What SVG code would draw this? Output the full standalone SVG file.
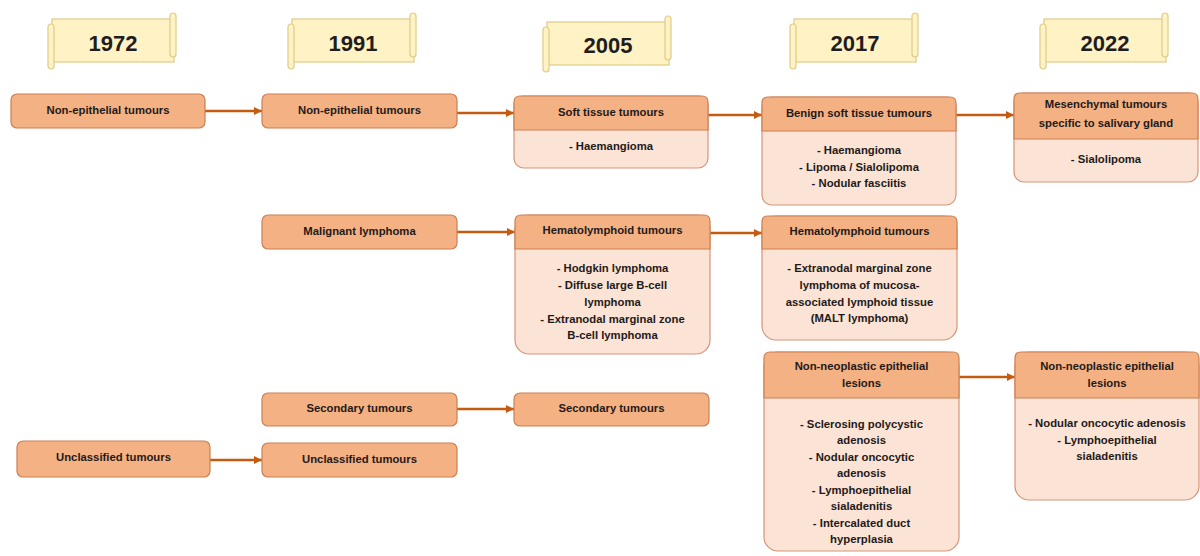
<svg xmlns="http://www.w3.org/2000/svg" width="1200" height="556" viewBox="0 0 1200 556">
<style>
.hd{fill:#F4B183;stroke:#CC7F52;stroke-width:1.2}
.bd{fill:#FBE4D5;stroke:#D4957A;stroke-width:1.2}
.t{font-family:"Liberation Sans",Arial,sans-serif;font-weight:bold;font-size:11.3px;fill:#1f1a1a;text-anchor:middle}
.yr{font-family:"Liberation Sans",Arial,sans-serif;font-weight:bold;font-size:22px;fill:#1e1e1e;text-anchor:middle}
.sc{fill:#FFF2C4;stroke:#E0CB85;stroke-width:1.2}
.ar{stroke:#C55A11;stroke-width:2.5;fill:none;marker-end:url(#ah)}
</style>
<defs>
<marker id="ah" viewBox="0 0 10 10" refX="10" refY="5" markerWidth="3.2" markerHeight="3.2" orient="auto" markerUnits="strokeWidth">
<path d="M0,0 L10,5 L0,10 Z" fill="#C55A11"/>
</marker>
<g id="scroll">
<rect class="sc" x="4" y="6" width="122" height="43"/>
<rect class="sc" x="122" y="0" width="6" height="44" rx="3"/>
<rect class="sc" x="0" y="11" width="6" height="45" rx="3"/>
</g>
</defs>
<rect width="1200" height="556" fill="#ffffff"/>

<g id="years">
<g id="y1972"><use href="#scroll" x="48" y="13"/><text class="yr" x="113" y="51">1972</text></g>
<g id="y1991"><use href="#scroll" x="288" y="13"/><text class="yr" x="353" y="51">1991</text></g>
<g id="y2005"><use href="#scroll" x="543" y="16"/><text class="yr" x="608" y="53">2005</text></g>
<g id="y2017"><use href="#scroll" x="790" y="13"/><text class="yr" x="855" y="51">2017</text></g>
<g id="y2022"><use href="#scroll" x="1040" y="13"/><text class="yr" x="1105" y="51">2022</text></g>
</g>

<g id="connectors">
<line class="ar" x1="205" y1="111" x2="262" y2="111"/>
<line class="ar" x1="457" y1="113" x2="514" y2="113"/>
<line class="ar" x1="708" y1="115" x2="762" y2="115"/>
<line class="ar" x1="956" y1="115" x2="1014" y2="115"/>
<line class="ar" x1="457" y1="232" x2="515" y2="232"/>
<line class="ar" x1="710" y1="233" x2="762" y2="233"/>
<line class="ar" x1="959" y1="377" x2="1015" y2="377"/>
<line class="ar" x1="457" y1="409" x2="514" y2="409"/>
<line class="ar" x1="210" y1="460" x2="262" y2="460"/>
</g>

<g id="n1972a"><rect class="hd" x="11" y="94" width="194" height="34" rx="6"/><text class="t" x="108" y="114">Non-epithelial tumours</text></g>
<g id="n1991a"><rect class="hd" x="262" y="94" width="195" height="34" rx="6"/><text class="t" x="359.5" y="114">Non-epithelial tumours</text></g>

<g id="n2005a">
<rect class="bd" x="514" y="96" width="194" height="72" rx="10"/>
<path class="hd" d="M514,130 V102 Q514,96 520,96 H702 Q708,96 708,102 V130 Z"/>
<text class="t" x="611" y="116">Soft tissue tumours</text>
<text class="t" x="611" y="150">- Haemangioma</text>
</g>

<g id="n2017a">
<rect class="bd" x="762" y="97" width="194" height="108" rx="10"/>
<path class="hd" d="M762,131 V103 Q762,97 768,97 H950 Q956,97 956,103 V131 Z"/>
<text class="t" x="859" y="117">Benign soft tissue tumours</text>
<text class="t" x="859" y="154">- Haemangioma</text>
<text class="t" x="859" y="171">- Lipoma / Sialolipoma</text>
<text class="t" x="859" y="187">- Nodular fasciitis</text>
</g>

<g id="n2022a">
<rect class="bd" x="1014" y="93" width="184" height="89" rx="10"/>
<path class="hd" d="M1014,139 V99 Q1014,93 1020,93 H1192 Q1198,93 1198,99 V139 Z"/>
<text class="t" x="1106" y="108">Mesenchymal tumours</text>
<text class="t" x="1106" y="127">specific to salivary gland</text>
<text class="t" x="1106" y="163">- Sialolipoma</text>
</g>

<g id="n1991b"><rect class="hd" x="262" y="215" width="195" height="34" rx="6"/><text class="t" x="359.5" y="235">Malignant lymphoma</text></g>

<g id="n2005b">
<rect class="bd" x="515" y="215" width="195" height="139" rx="14"/>
<path class="hd" d="M515,249 V221 Q515,215 521,215 H704 Q710,215 710,221 V249 Z"/>
<text class="t" x="612.5" y="234">Hematolymphoid tumours</text>
<text class="t" x="612.5" y="272">- Hodgkin lymphoma</text>
<text class="t" x="612.5" y="289">- Diffuse large B-cell</text>
<text class="t" x="612.5" y="306">lymphoma</text>
<text class="t" x="612.5" y="323">- Extranodal marginal zone</text>
<text class="t" x="612.5" y="339">B-cell lymphoma</text>
</g>

<g id="n2017b">
<rect class="bd" x="762" y="216" width="195" height="124" rx="14"/>
<path class="hd" d="M762,249 V222 Q762,216 768,216 H951 Q957,216 957,222 V249 Z"/>
<text class="t" x="859.5" y="235">Hematolymphoid tumours</text>
<text class="t" x="859.5" y="272">- Extranodal marginal zone</text>
<text class="t" x="859.5" y="289">lymphoma of mucosa-</text>
<text class="t" x="859.5" y="306">associated lymphoid tissue</text>
<text class="t" x="859.5" y="322">(MALT lymphoma)</text>
</g>

<g id="n2017c">
<rect class="bd" x="764" y="352" width="195" height="199" rx="14"/>
<path class="hd" d="M764,398 V358 Q764,352 770,352 H953 Q959,352 959,358 V398 Z"/>
<text class="t" x="861.5" y="370">Non-neoplastic epithelial</text>
<text class="t" x="861.5" y="387">lesions</text>
<text class="t" x="861.5" y="428">- Sclerosing polycystic</text>
<text class="t" x="861.5" y="444">adenosis</text>
<text class="t" x="861.5" y="461">- Nodular oncocytic</text>
<text class="t" x="861.5" y="477">adenosis</text>
<text class="t" x="861.5" y="494">- Lymphoepithelial</text>
<text class="t" x="861.5" y="510">sialadenitis</text>
<text class="t" x="861.5" y="527">- Intercalated duct</text>
<text class="t" x="861.5" y="543">hyperplasia</text>
</g>

<g id="n2022c">
<rect class="bd" x="1015" y="352" width="184" height="148" rx="14"/>
<path class="hd" d="M1015,398 V358 Q1015,352 1021,352 H1193 Q1199,352 1199,358 V398 Z"/>
<text class="t" x="1107" y="370">Non-neoplastic epithelial</text>
<text class="t" x="1107" y="387">lesions</text>
<text class="t" x="1107" y="427">- Nodular oncocytic adenosis</text>
<text class="t" x="1107" y="444">- Lymphoepithelial</text>
<text class="t" x="1107" y="460">sialadenitis</text>
</g>

<g id="n1991c"><rect class="hd" x="262" y="393" width="195" height="33" rx="6"/><text class="t" x="359.5" y="412">Secondary tumours</text></g>
<g id="n2005c"><rect class="hd" x="514" y="393" width="195" height="33" rx="6"/><text class="t" x="611.5" y="412">Secondary tumours</text></g>
<g id="n1972b"><rect class="hd" x="17" y="441" width="193" height="36" rx="6"/><text class="t" x="113.5" y="461">Unclassified tumours</text></g>
<g id="n1991d"><rect class="hd" x="262" y="443" width="195" height="34" rx="6"/><text class="t" x="359.5" y="463">Unclassified tumours</text></g>
</svg>
